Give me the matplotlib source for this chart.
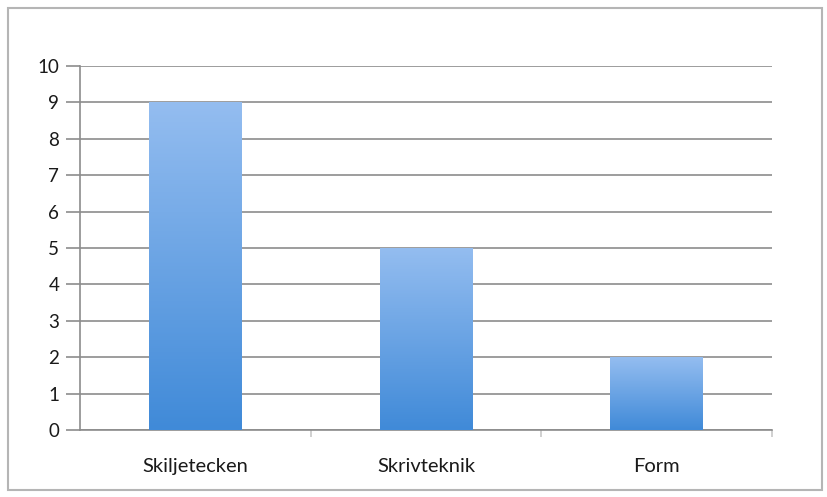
import matplotlib.pyplot as plt
import numpy as np
from matplotlib.colors import LinearSegmentedColormap
from matplotlib.patches import Rectangle

categories = ["Skiljetecken", "Skrivteknik", "Form"]
values = [9, 5, 2]
yticks = list(range(0, 11))

plt.rcParams['font.family'] = ['Lato', 'DejaVu Sans']

fig = plt.figure(figsize=(8.28, 4.97), dpi=100)
# outer chart frame
fig.patches.append(Rectangle((0.010, 0.014), 0.983, 0.970, transform=fig.transFigure,
                             fill=False, edgecolor='#b5b5b5', linewidth=1.5))
ax = fig.add_axes([0.0966, 0.1348, 0.8357, 0.7324])

x = np.arange(len(categories))
bars = ax.bar(x, values, width=0.4, color='none', edgecolor='none', zorder=3)

cmap = LinearSegmentedColormap.from_list('blues', ['#408ad8', '#94bdf0'])
grad = np.linspace(0, 1, 256).reshape(-1, 1)
for b in bars:
    x0, y0 = b.get_x(), b.get_y()
    w, h = b.get_width(), b.get_height()
    im = ax.imshow(grad, cmap=cmap, origin='lower', aspect='auto',
                   extent=(x0, x0 + w, y0, y0 + h), zorder=3)
    im.set_clip_path(b)

ax.set_xlim(-0.5, len(categories) - 0.5)
ax.set_ylim(0, 10)
ax.set_yticks(yticks)
ax.set_yticklabels([str(t) for t in yticks], fontsize=13.5, color='#1a1a1a')
ax.yaxis.grid(True, color='#8c8c8c', linewidth=1.2, zorder=0)
ax.set_axisbelow(True)
ax.tick_params(axis='y', length=10, width=1.2, color='#8c8c8c', pad=5)

ax.set_xticks(x)
ax.set_xticklabels(categories, fontsize=14.5, color='#1a1a1a')
ax.set_xticks(np.arange(len(categories)) + 0.5, minor=True)
ax.tick_params(axis='x', which='major', length=0, pad=20)
ax.tick_params(axis='x', which='minor', length=5, width=1.2, color='#c8c8c8')

for side in ['top', 'right']:
    ax.spines[side].set_visible(False)
for side in ['left', 'bottom']:
    ax.spines[side].set_color('#8c8c8c')
    ax.spines[side].set_linewidth(1.2)

fig.savefig('out.png', dpi=100)
